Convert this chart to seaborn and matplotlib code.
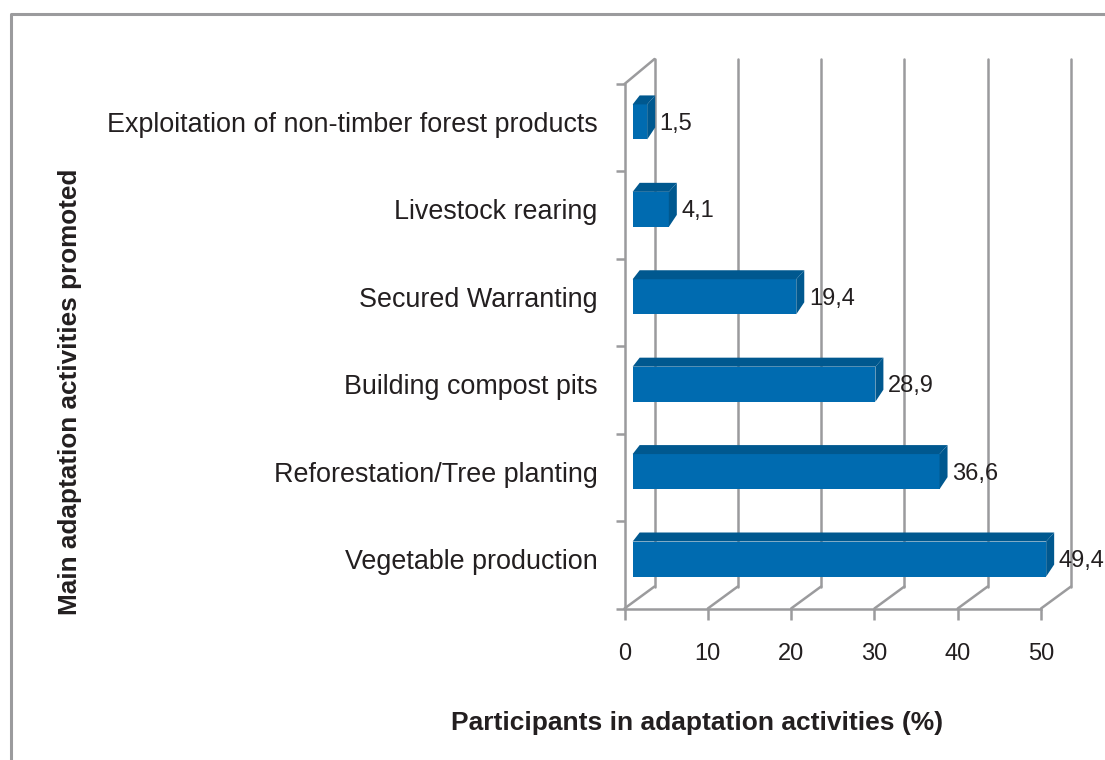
import matplotlib
matplotlib.use('Agg')
import matplotlib.pyplot as plt
import seaborn as sns
from matplotlib.lines import Line2D
from matplotlib.patches import Polygon
from matplotlib.transforms import Affine2D, IdentityTransform

activities = ['Exploitation of non-timber forest products', 'Livestock rearing', 'Secured Warranting',
              'Building compost pits', 'Reforestation/Tree planting', 'Vegetable production']
percent = [1.5, 4.1, 19.4, 28.9, 36.6, 49.4]
value_labels = ['1,5', '4,1', '19,4', '28,9', '36,6', '49,4']
x_ticks = [0, 10, 20, 30, 40, 50]

front = '#006bb0'
dark = '#00588f'
grey = '#9b9b9d'
ink = '#231f20'

sns.set_theme(style='white')
plt.rcParams['font.family'] = ['Liberation Sans', 'DejaVu Sans']

fig = plt.figure(figsize=(11.05, 7.6), dpi=100)
ax = fig.add_axes([624.5 / 1105, 151.5 / 760, 416.5 / 1105, 524.5 / 760])

# bars stand a little off the floor of the fake 3D box
sns.barplot(x=percent, y=activities, orient='y', color=front, saturation=1, width=0.378,
            left=1.1, edgecolor=front, linewidth=1.44, ax=ax, zorder=3, clip_on=False)
ax.set_xlim(0, 50)
ax.set_ylim(5.566, -0.434)

# front plane
for side in ['top', 'right']:
    ax.spines[side].set_visible(False)
for side in ['left', 'bottom']:
    ax.spines[side].set_color(grey)
    ax.spines[side].set_linewidth(1.8)
ax.set_xticks(x_ticks)
ax.tick_params(axis='x', length=8, width=1.8, color=grey, pad=17, labelsize=17, labelcolor=ink, bottom=True)
ax.tick_params(axis='y', which='major', length=0, pad=19.5, labelsize=19.4, labelcolor=ink)
y0, y1 = ax.get_ylim()
ax.set_yticks([y0 + (y1 - y0) * i / 6 for i in range(7)], minor=True)
ax.tick_params(axis='y', which='minor', length=6.5, width=1.8, color=grey, left=True)

# back wall and floor lines
depth_x, depth_y = 30, 22
wall_top = 1 + 3 / 524.5
back = ax.get_xaxis_transform() + Affine2D().translate(depth_x, depth_y)
floor_start = ax.get_xaxis_transform()
for t in x_ticks:
    ax.plot([t, t], [0, wall_top], transform=back, color=grey, lw=1.8, clip_on=False, zorder=1)
    start = floor_start.transform((t, 0))
    ax.add_line(Line2D([start[0], start[0] + depth_x], [start[1], start[1] + depth_y],
                       transform=IdentityTransform(), color=grey, lw=1.8, clip_on=False, zorder=1))
start = floor_start.transform((0, 1))
ax.add_line(Line2D([start[0], start[0] + depth_x], [start[1], start[1] + 25],
                   transform=IdentityTransform(), color=grey, lw=1.8, clip_on=False, zorder=1))

# top and side faces of the bars, plus the value next to each one
bars = list(ax.patches)
for bar, label in zip(bars, value_labels):
    x_a, y_a = ax.transData.transform((bar.get_x(), bar.get_y() + bar.get_height()))
    x_b, y_b = ax.transData.transform((bar.get_x() + bar.get_width(), bar.get_y()))
    # y_a is the lower edge on screen, y_b the upper one
    y_a, y_b = y_b, y_a
    x_a, x_b = x_a - 1, x_b + 1
    y_a, y_b = y_a + 1, y_b - 1
    top_face = [(x_a, y_a), (x_a + 7, y_a + 9), (x_b + 8, y_a + 9), (x_b, y_a)]
    side_face = [(x_b, y_a), (x_b + 8, y_a + 9), (x_b + 8, y_b + 12), (x_b, y_b)]
    for face in [top_face, side_face]:
        ax.add_patch(Polygon(face, closed=True, facecolor=dark, edgecolor='none',
                             transform=IdentityTransform(), clip_on=False, zorder=3))
    ax.text(x_b + 12.5, (y_a + y_b) / 2 - 2, label, transform=IdentityTransform(), fontsize=17, color=ink,
            ha='left', va='center', clip_on=False, zorder=4)

ax.set_xlabel('Participants in adaptation activities (%)', fontsize=19, fontweight='bold', color=ink, va='center')
ax.xaxis.set_label_coords(0.174, -0.219)
ax.set_ylabel('Main adaptation activities promoted', fontsize=18.8, fontweight='bold', color=ink, va='center')
ax.yaxis.set_label_coords(-1.332, 0.413)

# page frame, cut off at the right and bottom edges
fig.add_artist(Line2D([11 / 1105, 11 / 1105, 1], [0, 746 / 760, 746 / 760], color=grey, lw=2.2))

fig.savefig('out.png', dpi=100)
